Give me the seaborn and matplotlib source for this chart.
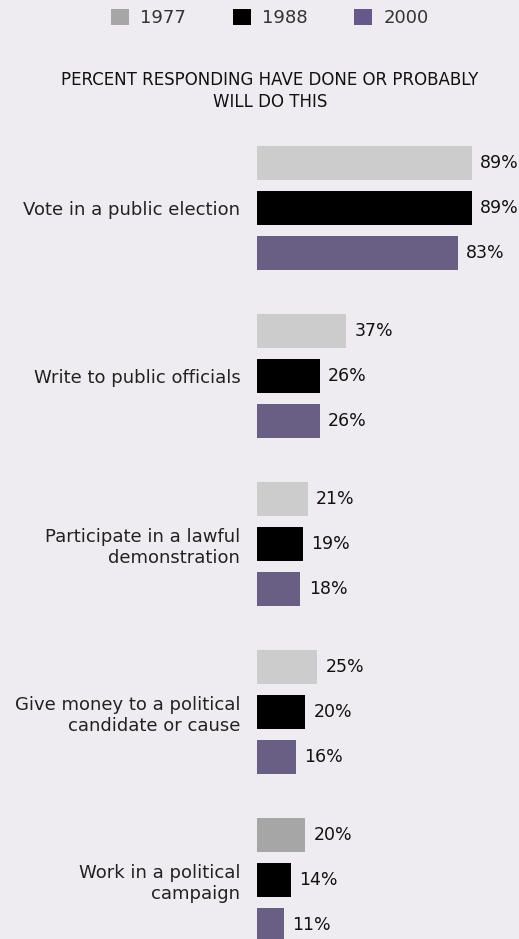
import pandas as pd
import matplotlib.pyplot as plt
import seaborn as sns
from matplotlib.patches import Patch

# chart data
activities = ['Vote in a public election',
              'Write to public officials',
              'Participate in a lawful\ndemonstration',
              'Give money to a political\ncandidate or cause',
              'Work in a political\ncampaign']
years = ['1977', '1988', '2000']
pct_1977 = [89, 37, 21, 25, 20]
pct_1988 = [89, 26, 19, 20, 14]
pct_2000 = [83, 26, 18, 16, 11]

bg = '#eeecf1'
colors = {'1977': '#cccccc', '1988': '#000000', '2000': '#665889'}
legend_colors = ['#a6a6a6', '#000000', '#665889']

df = pd.DataFrame({'Activity': activities * 3,
                   'Year': [y for y in years for _ in activities],
                   'Percent': pct_1977 + pct_1988 + pct_2000})

sns.set_style('white')
fig = plt.figure(figsize=(5.19, 9.39), dpi=100, facecolor=bg)
ax = fig.add_axes([257 / 519, 0, 262 / 519, 809 / 939], facecolor=bg)

sns.barplot(data=df, y='Activity', x='Percent', hue='Year', orient='h',
            palette=colors, width=0.8, gap=0.24, ax=ax, legend=False,
            edgecolor='none')

# last 1977 bar is drawn in the darker grey in the original
ax.containers[0].patches[-1].set_facecolor('#a6a6a6')

for cont in ax.containers:
    ax.bar_label(cont, fmt='%d%%', padding=6, fontsize=12.5, color='#111111')

ax.set_xlim(0, 262 / 2.416)
ax.set_ylim(4.351, -0.464)
ax.set_xlabel('')
ax.set_ylabel('')
ax.set_xticks([])
ax.tick_params(axis='y', length=0, pad=12, labelsize=13, labelcolor='#222222')
sns.despine(ax=ax, left=True, bottom=True)

fig.text(0.52, 1 - 91 / 939, 'PERCENT RESPONDING HAVE DONE OR PROBABLY\nWILL DO THIS',
         ha='center', va='center', fontsize=12, color='#111111', linespacing=1.3)

handles = [Patch(facecolor=c, edgecolor='none') for c in legend_colors]
fig.legend(handles, years, loc='center', bbox_to_anchor=(0.52, 1 - 18 / 939),
           ncol=3, frameon=False, fontsize=13, handlelength=1.0, handleheight=1.0,
           handletextpad=0.6, columnspacing=2.6, labelcolor='#333333')

fig.savefig('out.png', dpi=100, facecolor=bg)
